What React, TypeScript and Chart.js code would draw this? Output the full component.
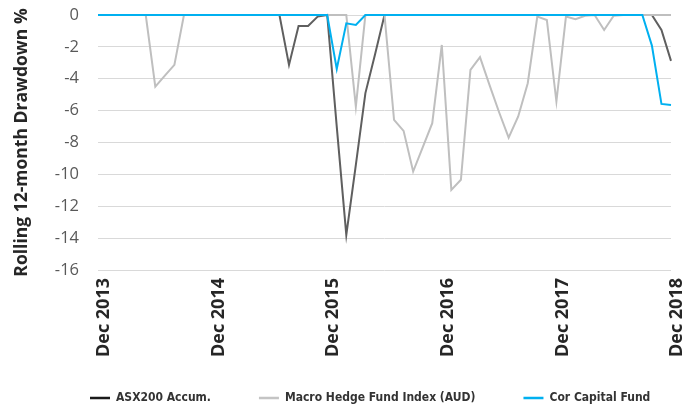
import React, { useEffect, useRef } from 'react';
import { Chart, registerables } from 'chart.js';

Chart.register(...registerables);

const MONTHS = ['Jan', 'Feb', 'Mar', 'Apr', 'May', 'Jun', 'Jul', 'Aug', 'Sep', 'Oct', 'Nov', 'Dec'];

// Monthly categories: Dec 2013 .. Dec 2018
const categories: string[] = [];
for (let k = 0; k <= 60; k++) {
  const m = (11 + k) % 12;
  const y = 2013 + Math.floor((11 + k) / 12);
  categories.push(`${MONTHS[m]} ${y}`);
}

const tickLabels = ['Dec 2013', 'Dec 2014', 'Dec 2015', 'Dec 2016', 'Dec 2017', 'Dec 2018'];

const asx200 = [
  0, 0, 0, 0, 0, 0, 0, 0, 0, 0,
  0, 0, 0, 0, 0, 0, 0, 0, 0, 0,
  -3.13, -0.69, -0.69, -0.1, 0, -7.0, -13.8, -9.4, -4.9, -2.5,
  0, 0, 0, 0, 0, 0, 0, 0, 0, 0,
  0, 0, 0, 0, 0, 0, 0, 0, 0, 0,
  0, 0, 0, 0, 0, 0, 0, 0, 0, -0.94,
  -2.88,
];

const macroHedge = [
  0, 0, 0, 0, 0, 0, -4.5, -3.8, -3.13, 0,
  0, 0, 0, 0, 0, 0, 0, 0, 0, 0,
  0, 0, 0, 0, 0, 0, 0, -5.75, 0, 0,
  0, -6.58, -7.27, -9.82, -8.3, -6.79, -1.88, -10.97, -10.34, -3.45,
  -2.65, -4.4, -6.1, -7.7, -6.37, -4.28, -0.1, -0.31, -5.43, -0.1,
  -0.27, -0.05, 0, -0.94, -0.05, 0, 0, 0, 0, 0,
  0,
];

const corCapital = [
  0, 0, 0, 0, 0, 0, 0, 0, 0, 0,
  0, 0, 0, 0, 0, 0, 0, 0, 0, 0,
  0, 0, 0, 0, 0, -3.39, -0.52, -0.63, 0, 0,
  0, 0, 0, 0, 0, 0, 0, 0, 0, 0,
  0, 0, 0, 0, 0, 0, 0, 0, 0, 0,
  0, 0, 0, 0, 0, 0, 0, 0, -1.92, -5.58,
  -5.64,
];

const seriesNames = ['ASX200 Accum.', 'Macro Hedge Fund Index (AUD)', 'Cor Capital Fund'];
const seriesColors = ['#5f5f5f', '#bfbfbf', '#00b0f0'];
const legendColors = ['#1a1a1a', '#c4c4c4', '#00b0f0'];

const LEGEND_X = 90;
const LEGEND_Y = 398;
const LEGEND_FONT = 12;

const legendPlace = {
  id: 'legendPlace',
  afterLayout(chart: any) {
    const lg = chart.legend;
    if (!lg || !lg.lineWidths) return;
    const P = lg.options.labels.padding;
    const start = (lg.left + P + lg.right - lg.lineWidths[0]) / 2;
    const dx = LEGEND_X - start;
    lg.left += dx;
    lg.right += dx;
    lg.top = LEGEND_Y - P - LEGEND_FONT / 2;
    lg.bottom = chart.height;
    lg.height = lg.bottom - lg.top;
  },
};

export default function App() {
  const ref = useRef<HTMLCanvasElement | null>(null);

  useEffect(() => {
    if (!ref.current) return;
    Chart.defaults.font.family = "'Open Sans', sans-serif";
    const data = [asx200, macroHedge, corCapital];
    const chart = new Chart(ref.current, {
      type: 'line',
      data: {
        labels: categories,
        datasets: data.map((d, i) => ({
          label: seriesNames[i],
          data: d,
          borderColor: seriesColors[i],
          backgroundColor: legendColors[i],
          borderWidth: 2,
          pointRadius: 0,
          tension: 0,
          clip: 4,
          order: 3 - i,
        })),
      },
      options: {
        responsive: false,
        animation: false,
        devicePixelRatio: 1,
        layout: { padding: { top: 15, right: 21, left: 0, bottom: 0 } },
        plugins: {
          tooltip: { enabled: false },
          legend: {
            position: 'bottom',
            reverse: true,
            maxHeight: 30,
            labels: {
              usePointStyle: true,
              pointStyle: 'line',
              pointStyleWidth: 20,
              padding: 48,
              color: '#333333',
              generateLabels: (chart: any) => {
                const items = Chart.defaults.plugins.legend.labels.generateLabels(chart);
                return items.map((it: any) => ({
                  ...it,
                  strokeStyle: legendColors[it.datasetIndex],
                  fillStyle: legendColors[it.datasetIndex],
                  lineWidth: 2.5,
                  pointStyle: 'line',
                }));
              },
              font: { family: "'Liberation Sans Narrow', 'DejaVu Sans Condensed', 'Open Sans', sans-serif", size: LEGEND_FONT, weight: 'bold' },
            },
          },
        },
        scales: {
          x: {
            type: 'category',
            offset: false,
            grid: { display: false, drawTicks: false },
            border: { display: false },
            afterFit: (scale: any) => {
              scale.height = 408 - 270 - 30;
              scale.paddingLeft = 0;
              scale.paddingRight = 0;
            },
            ticks: {
              autoSkip: false,
              minRotation: 90,
              maxRotation: 90,
              padding: 8,
              labelOffset: 6,
              color: '#262626',
              font: { size: 18, weight: 'bold' },
              callback: (_v: any, idx: number) =>
                tickLabels.includes(categories[idx]) ? categories[idx] : '',
            },
          },
          y: {
            min: -16,
            max: 0,
            afterFit: (scale: any) => {
              scale.width = 98;
              scale.paddingTop = 0;
              scale.paddingBottom = 0;
            },
            grid: { color: '#d9d9d9', lineWidth: 1, drawTicks: false },
            border: { display: false },
            ticks: {
              stepSize: 2,
              padding: 19,
              color: '#595959',
              font: { size: 16.5 },
            },
            title: {
              display: true,
              text: 'Rolling 12-month Drawdown %',
              color: '#262626',
              font: { size: 17.5, weight: 'bold' },
              padding: { top: 12, bottom: 0 },
            },
          },
        },
      },
      plugins: [legendPlace],
    });
    return () => chart.destroy();
  }, []);

  return (
    <div style={{ position: 'absolute', left: 0, top: 0, width: 692, height: 408 }}>
      <canvas ref={ref} width={692} height={408} style={{ display: 'block' }} />
    </div>
  );
}
